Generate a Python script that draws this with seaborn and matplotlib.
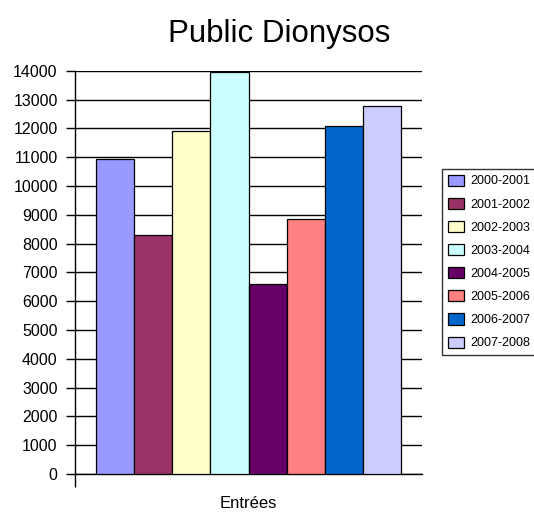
import matplotlib
matplotlib.use('Agg')
import matplotlib.pyplot as plt
import seaborn as sns
import pandas as pd

# Values
saisons = ['2000-2001', '2001-2002', '2002-2003', '2003-2004',
           '2004-2005', '2005-2006', '2006-2007', '2007-2008']
entrees = [10930, 8300, 11890, 13950, 6590, 8860, 12090, 12780]
couleurs = ['#9999FF', '#993366', '#FFFFCC', '#CCFFFF',
            '#660066', '#FF8080', '#0066CC', '#CCCCFF']
categorie = 'Entrées'

df = pd.DataFrame({'cat': [categorie] * len(saisons),
                   'saison': saisons,
                   'val': entrees})

sns.set_style('white')
plt.rcParams['font.family'] = ['Liberation Sans', 'DejaVu Sans']
plt.rcParams['text.color'] = 'black'
plt.rcParams['xtick.color'] = 'black'
plt.rcParams['ytick.color'] = 'black'
plt.rcParams['axes.labelcolor'] = 'black'

fig = plt.figure(figsize=(5.34, 5.12), dpi=100)
ax = fig.add_axes([75 / 534, 1 - 474 / 512, 347 / 534, (474 - 70.7) / 512])

sns.barplot(data=df, x='cat', y='val', hue='saison', palette=couleurs,
            hue_order=saisons, width=0.878, edgecolor='black', linewidth=0.9,
            saturation=1, ax=ax, zorder=3)

ax.set_xlim(-0.5, 0.5)
ax.set_ylim(0, 14000)
ax.set_yticks(range(0, 14001, 1000))
ax.yaxis.grid(True, color='black', linewidth=1, zorder=0)
ax.set_axisbelow(True)
for s in ['top', 'right']:
    ax.spines[s].set_visible(False)
for s in ['left', 'bottom']:
    ax.spines[s].set_color('black')
    ax.spines[s].set_linewidth(1)

ax.tick_params(axis='y', direction='out', length=6.5, width=1, colors='black',
               labelsize=11.5, pad=6, left=True)
ax.tick_params(axis='x', which='major', length=0, labelsize=12, pad=16,
               labelcolor='black')
ax.set_xticks([-0.5], minor=True)
ax.tick_params(axis='x', which='minor', direction='out', length=9, width=1,
               color='black', bottom=True)
ax.set_xlabel('')
ax.set_ylabel('')

fig.text(0.5225, 1 - 42 / 512, 'Public Dionysos', fontsize=22.5,
         ha='center', va='baseline', color='black')

leg = ax.legend(loc='upper left', bbox_to_anchor=(442 / 534, 1 - 169 / 512),
                bbox_transform=fig.transFigure, fontsize=9, frameon=True,
                fancybox=False, shadow=False, borderaxespad=0,
                handlelength=1.3, handleheight=1.0, labelspacing=0.82,
                borderpad=0.45, handletextpad=0.55)
leg.get_frame().set_edgecolor('black')
leg.get_frame().set_linewidth(1)
for t in leg.get_texts():
    t.set_color('black')
for h in leg.legend_handles:
    h.set_edgecolor('black')
    h.set_linewidth(0.9)

fig.savefig('out.png', dpi=100)
